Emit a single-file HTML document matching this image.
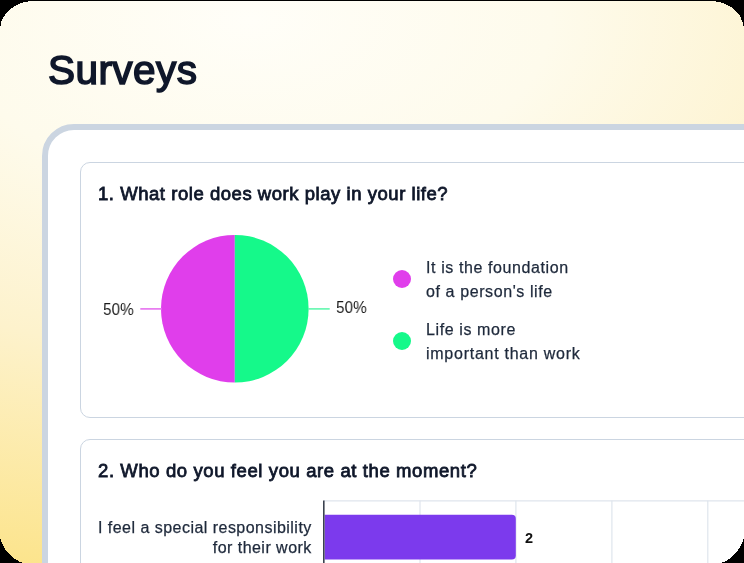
<!DOCTYPE html>
<html>
<head>
<meta charset="utf-8">
<style>
html, body { margin: 0; padding: 0; }
#title, .q, .pct, .leg, #blabel, #two { will-change: transform; }
body { width: 744px; height: 563px; background: #000; overflow: hidden; position: relative; font-family: "Liberation Sans", sans-serif; }
#frame { position: absolute; left: 0; top: 0; width: 744px; height: 563px;
  background: radial-gradient(ellipse 1000px 560px at 250px 20px, #fffef8 0%, #fefbec 30%, #fdf2cc 60%, #fce48c 100%); }
#title { position: absolute; left: 48px; top: 44.5px; font-size: 40.5px; letter-spacing: 0.45px; font-weight: normal; -webkit-text-stroke: 1.6px #0f172a; color: #0f172a; white-space: nowrap; line-height: 50px; }
#outer { position: absolute; left: 42px; top: 124px; width: 760px; height: 500px; border: 6px solid #cbd5e1; border-radius: 32px; background: #fff; }
.card { position: absolute; left: 80px; width: 720px; border: 1px solid #cbd5e1; border-radius: 10px; background: #fff; }
#card1 { top: 162px; height: 254px; }
#card2 { top: 439px; height: 200px; }
.q { position: absolute; left: 98.5px; font-size: 18.5px; font-weight: normal; -webkit-text-stroke: 0.8px #0f172a; letter-spacing: 0.54px; color: #0f172a; white-space: nowrap; line-height: 24px; }
#q1 { top: 182px; left: 97.8px; }
#q2 { top: 459px; left: 98px; letter-spacing: 0.6px; }
.pct { position: absolute; font-size: 17px; transform: scaleX(0.9); transform-origin: 0 0; color: #1a1a1a; white-space: nowrap; line-height: 20px; }
.leg { position: absolute; left: 426px; font-size: 16px; letter-spacing: 0.6px; color: #1e293b; -webkit-text-stroke: 0.25px #1e293b; line-height: 24px; white-space: nowrap; }
.dot { position: absolute; width: 18.5px; height: 18.5px; border-radius: 50%; }
.grid { position: absolute; top: 500px; width: 1px; height: 80px; background: #e2e8f0; }
#blabel { position: absolute; right: 432px; top: 518px; text-align: right; font-size: 16px; letter-spacing: 0.47px; line-height: 20px; color: #1e293b; -webkit-text-stroke: 0.25px #1e293b; white-space: nowrap; }
</style>
</head>
<body>
<div id="frame"></div>
<div id="title">Surveys</div>
<div id="outer"></div>
<div class="card" id="card1"></div>
<div class="card" id="card2"></div>
<div class="q" id="q1">1. What role does work play in your life?</div>
<svg style="position:absolute;left:0;top:0" width="744" height="563">
  <path d="M234.8 234.95 A73.8 73.8 0 0 0 234.8 382.55 Z" fill="#e03eeb"/>
  <path d="M234.8 234.95 A73.8 73.8 0 0 1 234.8 382.55 Z" fill="#15f98a"/>
  <line x1="140.3" y1="308.9" x2="162" y2="308.9" stroke="#e670ef" stroke-width="1.6"/>
  <line x1="308" y1="308.9" x2="329.7" y2="308.9" stroke="#60f8ae" stroke-width="1.6"/>
</svg>
<div class="pct" id="p1" style="left:102.5px;top:300px">50%</div>
<div class="pct" id="p2" style="left:336px;top:298px">50%</div>
<div class="dot" style="left:392.5px;top:269.7px;background:#e03eeb"></div>
<div class="dot" style="left:392.5px;top:331.5px;background:#15f98a"></div>
<div class="leg" id="l1" style="top:256px">It is the foundation<br>of a person's life</div>
<div class="leg" id="l2" style="top:318px">Life is more<br><span style="letter-spacing:0.74px">important than work</span></div>
<div class="q" id="q2">2. Who do you feel you are at the moment?</div>
<svg style="position:absolute;left:0;top:0" width="744" height="563">
  <line x1="324" y1="500.9" x2="744" y2="500.9" stroke="#dfe5ed" stroke-width="1.2"/>
  <line x1="420" y1="500.5" x2="420" y2="563" stroke="#dfe5ed" stroke-width="1.2"/>
  <line x1="515.9" y1="500.5" x2="515.9" y2="563" stroke="#dfe5ed" stroke-width="1.2"/>
  <line x1="611.9" y1="500.5" x2="611.9" y2="563" stroke="#dfe5ed" stroke-width="1.2"/>
  <line x1="707.8" y1="500.5" x2="707.8" y2="563" stroke="#dfe5ed" stroke-width="1.2"/>
  <path d="M324.7 514.7H511.8A4 4 0 0 1 515.8 518.7V555.4A4 4 0 0 1 511.8 559.4H324.7Z" fill="#7c3aed"/>
  <line x1="323.8" y1="500.4" x2="323.8" y2="563" stroke="#3b4250" stroke-width="1.6"/>
</svg>
<div id="two" style="position:absolute;left:525px;top:529px;font-size:14.5px;font-weight:bold;color:#111;line-height:18px">2</div>
<div id="blabel">I feel a special responsibility<br>for their work</div>
<svg style="position:absolute;left:0;top:0" width="744" height="563" shape-rendering="crispEdges"><path fill="#000" d="M0 1H28V2H23V3H20V4H18V5H16V6H14V7H13V8H11V9H10V10H9V11H8V12H7V13H6V14H5V15H5V16H4V17H3V18H3V19H2V20H2V21H1V22H1V23H1V24H1V25H1V26H0ZM744 1H716V2H721V3H724V4H726V5H728V6H730V7H732V8H733V9H734V10H735V11H736V12H737V13H738V14H739V15H740V16H740V17H741V18H741V19H741V20H742V21H742V22H743V23H743V24H743V25H743V26H744ZM0 0H744V1H0ZM0 539H1V540H1V541H1V542H2V543H2V544H3V545H3V546H4V547H4V548H5V549H5V550H6V551H7V552H8V553H9V554H10V555H11V556H12V557H13V558H14V559H16V560H18V561H19V562H22V563H0ZM744 539H743V540H743V541H743V542H742V543H742V544H741V545H741V546H740V547H740V548H739V549H738V550H738V551H737V552H736V553H735V554H734V555H733V556H732V557H731V558H730V559H728V560H727V561H725V562H722V563H744Z"/></svg>
</body>
</html>
